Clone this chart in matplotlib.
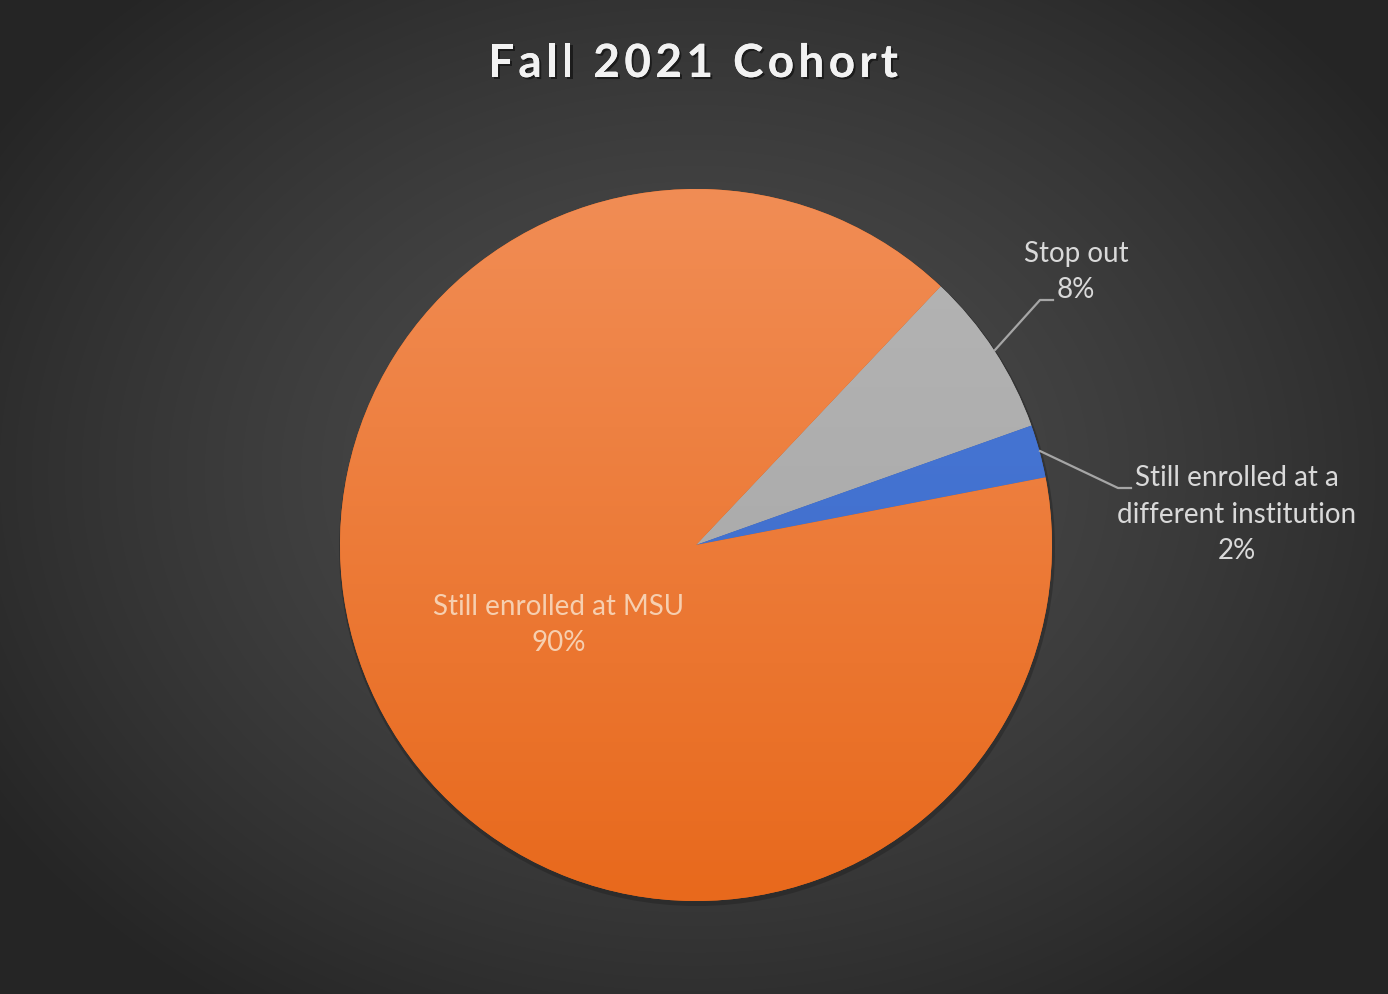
import numpy as np
import matplotlib
matplotlib.use("Agg")
import matplotlib.pyplot as plt
import matplotlib.patheffects as pe
from matplotlib.colors import to_rgb

# ---- data ----
categories = ["Stop out", "Still enrolled at a\ndifferent institution", "Still enrolled at MSU"]
values = [7.5, 2.4, 90.1]
pct_labels = [f"{int(v + 0.5)}%" for v in values]
title = "Fall 2021 Cohort"

# ---- styles ----
W, H = 1388, 995
fig = plt.figure(figsize=(W / 100, H / 100), dpi=100)
ax = fig.add_axes([0, 0, 1, 1])

# background radial gradient
yy, xx = np.mgrid[0:H, 0:W]
cx_bg, cy_bg = 695, 520
d = np.sqrt(((xx - cx_bg) / 820.0) ** 2 + ((yy - cy_bg) / 640.0) ** 2)
t = np.clip(d, 0, 1) ** 1.4
c0 = np.array(to_rgb("#4d4d4d"))
c1 = np.array(to_rgb("#262626"))
bg = c0[None, None, :] * (1 - t[..., None]) + c1[None, None, :] * t[..., None]
ax.imshow(bg, extent=[0, W, H, 0], origin="upper", zorder=0, aspect="auto")

cx, cy, R = 696, H - 546, 356
grad_cols = [("#b5b5b5", "#a3a3a3"), ("#4a7ad8", "#3b68c6"), ("#f18d55", "#e8691c")]

wedges, _ = ax.pie(values, startangle=46.6, counterclock=False, center=(cx, cy),
                   radius=R, colors=[g[1] for g in grad_cols], frame=True,
                   wedgeprops=dict(linewidth=0, zorder=2))
ax.set_xlim(0, W)
ax.set_ylim(0, H)
ax.set_aspect("auto")
ax.axis("off")

# soft shadow behind pie
shadow = plt.Circle((cx + 1, cy - 3), R + 2, color="#1a1a1a", alpha=0.35, zorder=1, lw=0)
ax.add_patch(shadow)

# gradient fill inside each wedge
gy = np.linspace(0, 1, 256)[:, None]
for w, (ct, cb) in zip(wedges, grad_cols):
    a = np.array(to_rgb(ct))
    b = np.array(to_rgb(cb))
    img = a[None, None, :] * (1 - gy[..., None]) + b[None, None, :] * gy[..., None]
    img = np.repeat(img, 2, axis=1)
    im = ax.imshow(img, extent=[cx - R, cx + R, cy - R, cy + R], origin="upper",
                   zorder=3, aspect="auto")
    im.set_clip_path(w)
ax.set_xlim(0, W)
ax.set_ylim(0, H)

font = "Lato"
txt_col = "#d9d9d9"
fs = 20
ls = 1.5

# inside label for MSU
ax.text(559, H - 625, f"{categories[2]}\n{pct_labels[2]}", ha="center", va="center",
        fontsize=fs, color="#f6cfb0", family=font, linespacing=ls, zorder=5)

# outside labels with leader lines
ax.text(1076, H - 272, f"{categories[0]}\n{pct_labels[0]}", ha="center", va="center",
        fontsize=fs, color=txt_col, family=font, linespacing=ls, zorder=5)
ax.plot([995, 1040, 1053], [H - 351, H - 301, H - 301], color="#a6a6a6", lw=1.6, zorder=4)

ax.text(1237, H - 515, f"{categories[1]}\n{pct_labels[1]}", ha="center", va="center",
        fontsize=fs, color=txt_col, family=font, linespacing=ls, zorder=5)
ax.plot([1040, 1118, 1131], [H - 452, H - 489, H - 489], color="#a6a6a6", lw=1.6, zorder=4)

# title with letter spacing
fig.canvas.draw()
renderer = fig.canvas.get_renderer()
tkw = dict(fontsize=33, fontweight="bold", color="#f2f2f2", family=font, zorder=6,
           va="baseline", ha="left",
           path_effects=[pe.withSimplePatchShadow(offset=(1.5, -1.5), shadow_rgbFace="#111111", alpha=0.7),
                         pe.Normal()])
# measure advance of each prefix
def width_of(s):
    tt = ax.text(0, 0, s.replace(" ", "\u00a0"), **tkw)
    wdt = tt.get_window_extent(renderer).width
    tt.remove()
    return wdt

adv = [0.0]
for i in range(1, len(title) + 1):
    adv.append(width_of(title[:i] + "|") - width_of("|"))
natural = adv[-1]
target = 410.0
extra = (target - natural) / (len(title) - 1)
x0 = 693 - target / 2
base_y = H - 78
for i, ch in enumerate(title):
    if ch == " ":
        continue
    ax.text(x0 + adv[i] + extra * i, base_y, ch, **tkw)

ax.set_xlim(0, W)
ax.set_ylim(0, H)
fig.savefig("out.png", dpi=100)
